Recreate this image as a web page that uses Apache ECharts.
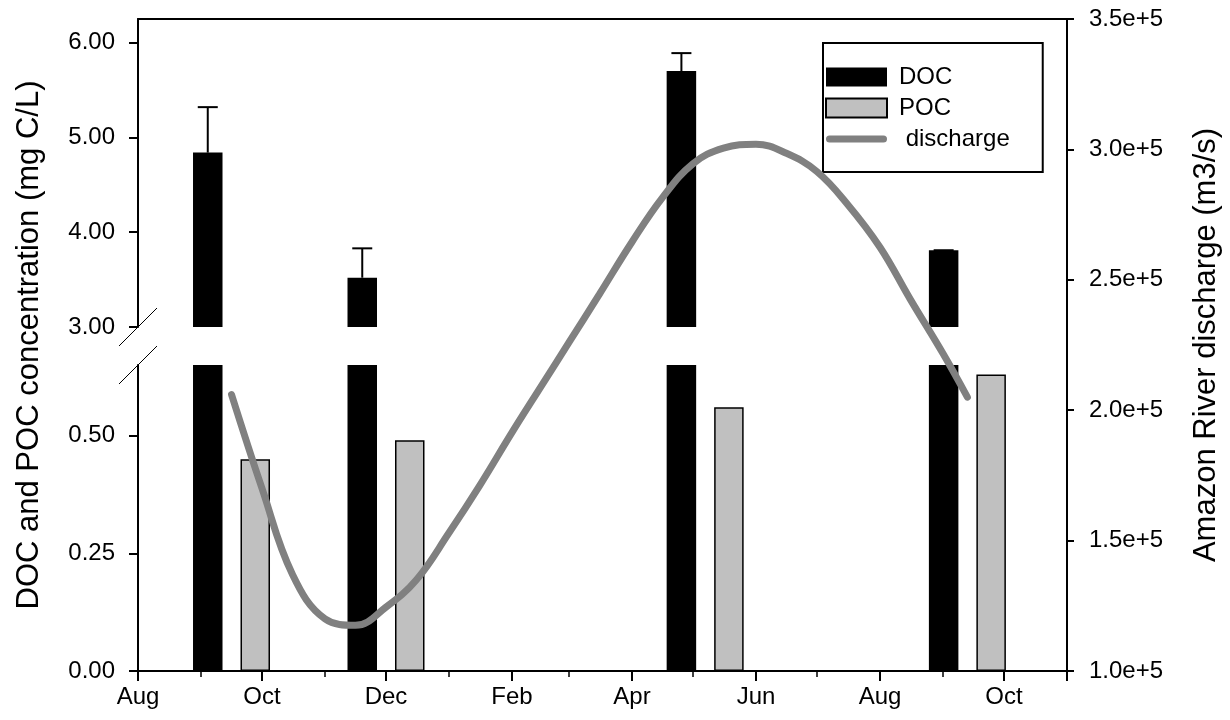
<!DOCTYPE html>
<html>
<head>
<meta charset="utf-8">
<script src="https://cdn.jsdelivr.net/npm/echarts@6/dist/echarts.min.js"></script>
<style>
html,body{margin:0;padding:0;background:#fff;}
#chart{width:1230px;height:720px;}
</style>
</head>
<body>
<div id="chart"></div>
<script>
// ---------------- data ----------------
const sampleDates = ['2010-09-16', '2010-12-01', '2011-05-07', '2011-09-13'];
const docValues = [4.84, 3.52, 5.70, 3.81];
const docErrors = [0.48, 0.31, 0.19, 0.0];
const pocValues = [0.45, 0.49, 0.56, 0.63];

const dischargeDates = ['2010-09-16', '2010-10-01', '2010-10-16', '2010-11-01', '2010-11-16',
  '2010-12-01', '2010-12-16', '2011-01-01', '2011-01-16', '2011-02-01', '2011-02-16',
  '2011-03-01', '2011-03-16', '2011-04-01', '2011-04-16', '2011-05-01', '2011-05-16',
  '2011-06-01', '2011-06-16', '2011-07-01', '2011-07-16', '2011-08-01', '2011-08-16',
  '2011-09-01', '2011-09-13'];
const dischargeValues = [206000, 170000, 137000, 120000, 117500,
  124500, 135000, 153000, 171000, 191500, 210000,
  226000, 244500, 264500, 281500, 294500, 300500,
  302000, 298500, 291500, 279000, 262500, 242400,
  221700, 205000];

const xTickLabels = ['Aug', 'Oct', 'Dec', 'Feb', 'Apr', 'Jun', 'Aug', 'Oct'];
const leftUpperTicks = [3, 4, 5, 6];
const leftLowerTicks = [0, 0.25, 0.5];
const xStart = '2010-08-01';
const xEnd = '2011-11-01';

// ---------------- helpers ----------------
function ts(s) { const p = s.split('-').map(Number); return new Date(p[0], p[1] - 1, p[2]).getTime(); }
const xMin = ts(xStart), xMax = ts(xEnd);
const monthTicks = [];
(function () { const d0 = new Date(xMin); let m = 0;
  while (true) { const t = new Date(d0.getFullYear(), d0.getMonth() + m, 1).getTime(); if (t > xMax) break; monthTicks.push(t); m++; } })();
const majorTicks = monthTicks.filter((t, i) => i % 2 === 0 || t === xMax);
const majorLabels = monthTicks.filter((t, i) => i % 2 === 0 && t !== xMax);

const FONT = "'Liberation Sans', Arial, sans-serif";
const BAR_W = 29.5, BAR_GAP_PX = 18;
const OFFSET = (BAR_W + BAR_GAP_PX) / 2;

const docData = sampleDates.map((d, i) => [ts(d), docValues[i]]);
const pocData = sampleDates.map((d, i) => [ts(d), pocValues[i]]);
const errData = sampleDates.map((d, i) => [ts(d), docValues[i], docErrors[i]]);
const disData = dischargeDates.map((d, i) => [ts(d), dischargeValues[i]]);

const G = { left: 138, right: 163 };
const axisLineStyle = { color: '#000', width: 2 };
const labelStyle = { color: '#000', fontSize: 24, fontFamily: FONT };
const LINE_ICON = 'path://M0,0 M0,19 M3.5,6 L57.5,6 A3.5,3.5 0 0 1 57.5,13 L3.5,13 A3.5,3.5 0 0 1 3.5,6 Z M61,9.5';

const chart = echarts.init(document.getElementById('chart'));
const option = {
  animation: false,
  backgroundColor: '#fff',
  textStyle: { fontFamily: FONT },
  grid: [
    { left: G.left, right: G.right, top: 19, bottom: 393 },   // upper segment 3.00 - 6.25
    { left: G.left, right: G.right, top: 365, bottom: 49 },   // lower segment 0 - 0.65
    { left: G.left, right: G.right, top: 19, bottom: 49 }     // full area (discharge)
  ],
  xAxis: [
    { type: 'value', gridIndex: 0, min: xMin, max: xMax, position: 'top',
      axisLine: { show: true, lineStyle: axisLineStyle }, axisTick: { show: false },
      axisLabel: { show: false }, splitLine: { show: false } },
    { type: 'value', gridIndex: 1, min: xMin, max: xMax, position: 'bottom',
      axisLine: { show: true, lineStyle: axisLineStyle },
      axisTick: { show: true, length: 10, lineStyle: { color: '#000', width: 2 }, customValues: majorTicks },
      axisLabel: { show: true, ...labelStyle, margin: 14, customValues: majorLabels,
        formatter: (v) => { const k = majorLabels.indexOf(v); return k >= 0 ? xTickLabels[k] : ''; } },
      splitLine: { show: false } },
    { type: 'value', gridIndex: 1, min: xMin, max: xMax, position: 'bottom',
      axisLine: { show: false },
      axisTick: { show: true, length: 6, lineStyle: { color: '#000', width: 1.5 }, customValues: monthTicks },
      axisLabel: { show: false }, splitLine: { show: false } },
    { type: 'value', gridIndex: 2, min: xMin, max: xMax, show: false }
  ],
  yAxis: [
    { type: 'value', gridIndex: 0, min: 3, max: 6.25, position: 'left',
      axisLine: { show: true, lineStyle: axisLineStyle },
      axisTick: { show: true, length: 9, lineStyle: { color: '#000', width: 2 }, customValues: leftUpperTicks },
      axisLabel: { ...labelStyle, margin: 23, customValues: leftUpperTicks, formatter: v => v.toFixed(2) },
      splitLine: { show: false } },
    { type: 'value', gridIndex: 1, min: 0, max: 0.65, position: 'left',
      axisLine: { show: true, lineStyle: axisLineStyle },
      axisTick: { show: true, length: 9, lineStyle: { color: '#000', width: 2 }, customValues: leftLowerTicks },
      axisLabel: { ...labelStyle, margin: 23, customValues: leftLowerTicks, formatter: v => v.toFixed(2) },
      splitLine: { show: false } },
    { type: 'value', gridIndex: 2, min: 100000, max: 350000, interval: 50000, position: 'right',
      axisLine: { show: true, lineStyle: axisLineStyle },
      axisTick: { show: true, length: 7, lineStyle: { color: '#000', width: 2 } },
      axisLabel: { ...labelStyle, margin: 22, formatter: v => (v / 1e5).toFixed(1) + 'e+5' },
      splitLine: { show: false },
      name: 'Amazon River discharge (m3/s)', nameLocation: 'middle', nameRotate: 90, nameGap: 124,
      nameTextStyle: { color: '#000', fontSize: 31, fontFamily: FONT } },
    { type: 'value', gridIndex: 2, min: 0, max: 1, position: 'left',
      axisLine: { show: false }, axisTick: { show: false }, axisLabel: { show: false }, splitLine: { show: false },
      name: 'DOC and POC concentration (mg C/L)', nameLocation: 'middle', nameRotate: 90, nameGap: 93,
      nameTextStyle: { color: '#000', fontSize: 31, fontFamily: FONT } }
  ],
  legend: {
    orient: 'vertical', left: 823, top: 43,
    padding: [22, 33, 21, 2],
    borderColor: '#000', borderWidth: 2, backgroundColor: '#fff',
    itemWidth: 61, itemHeight: 19, itemGap: 7,
    textStyle: { color: '#000', fontSize: 24, fontFamily: FONT, padding: [0, 0, 0, 7] },
    formatter: n => n === 'discharge' ? ' ' + n : n,
    data: [{ name: 'DOC', icon: 'rect' }, { name: 'POC', icon: 'rect' },
      { name: 'discharge', icon: LINE_ICON, itemStyle: { color: '#808080', borderWidth: 0 } }]
  },
  series: [
    { name: 'DOC', type: 'bar', xAxisIndex: 0, yAxisIndex: 0, data: docData, barWidth: BAR_W,
      itemStyle: { color: '#000' }, clip: true },
    { name: 'POC', type: 'bar', xAxisIndex: 0, yAxisIndex: 0, data: pocData, barWidth: BAR_W,
      barGap: (BAR_GAP_PX / BAR_W * 100).toFixed(1) + '%',
      itemStyle: { color: '#c0c0c0', borderColor: '#000', borderWidth: 1.5 }, clip: true },
    { name: 'DOC', type: 'bar', xAxisIndex: 1, yAxisIndex: 1, data: docData, barWidth: BAR_W,
      itemStyle: { color: '#000' }, clip: true },
    { name: 'POC', type: 'bar', xAxisIndex: 1, yAxisIndex: 1, data: pocData, barWidth: BAR_W,
      barGap: (BAR_GAP_PX / BAR_W * 100).toFixed(1) + '%',
      itemStyle: { color: '#c0c0c0', borderColor: '#000', borderWidth: 1.5 }, clip: true },
    { name: 'DOCerr', type: 'custom', xAxisIndex: 0, yAxisIndex: 0, data: errData, z: 3,
      renderItem: function (params, api) {
        const base = api.coord([api.value(0), api.value(1)]);
        const top = api.coord([api.value(0), api.value(1) + api.value(2)]);
        const x = base[0] - OFFSET;
        return { type: 'group', children: [
          { type: 'line', shape: { x1: x, y1: base[1], x2: x, y2: top[1] }, style: { stroke: '#000', lineWidth: 2 } },
          { type: 'line', shape: { x1: x - 10, y1: top[1], x2: x + 10, y2: top[1] }, style: { stroke: '#000', lineWidth: 2 } }
        ] };
      } },
    { name: 'discharge', type: 'line', xAxisIndex: 3, yAxisIndex: 2, data: disData,
      smooth: 0.4, symbol: 'none', z: 5,
      lineStyle: { color: '#808080', width: 7, cap: 'round' }, itemStyle: { color: '#808080' } }
  ]
};
chart.setOption(option);

// axis-break marks on the left axis, positioned from the axes' own scales
const pBreakUp = chart.convertToPixel({ xAxisIndex: 0, yAxisIndex: 0 }, [xMin, 3]);
const pBreakLo = chart.convertToPixel({ xAxisIndex: 1, yAxisIndex: 1 }, [xMin, 0.65]);
const brk = p => ({ type: 'line', shape: { x1: p[0] - 19, y1: p[1] + 19, x2: p[0] + 19, y2: p[1] - 19 },
  style: { stroke: '#000', lineWidth: 1 }, z: 10 });
chart.setOption({ graphic: [brk(pBreakUp), brk(pBreakLo)] });
</script>
</body>
</html>
